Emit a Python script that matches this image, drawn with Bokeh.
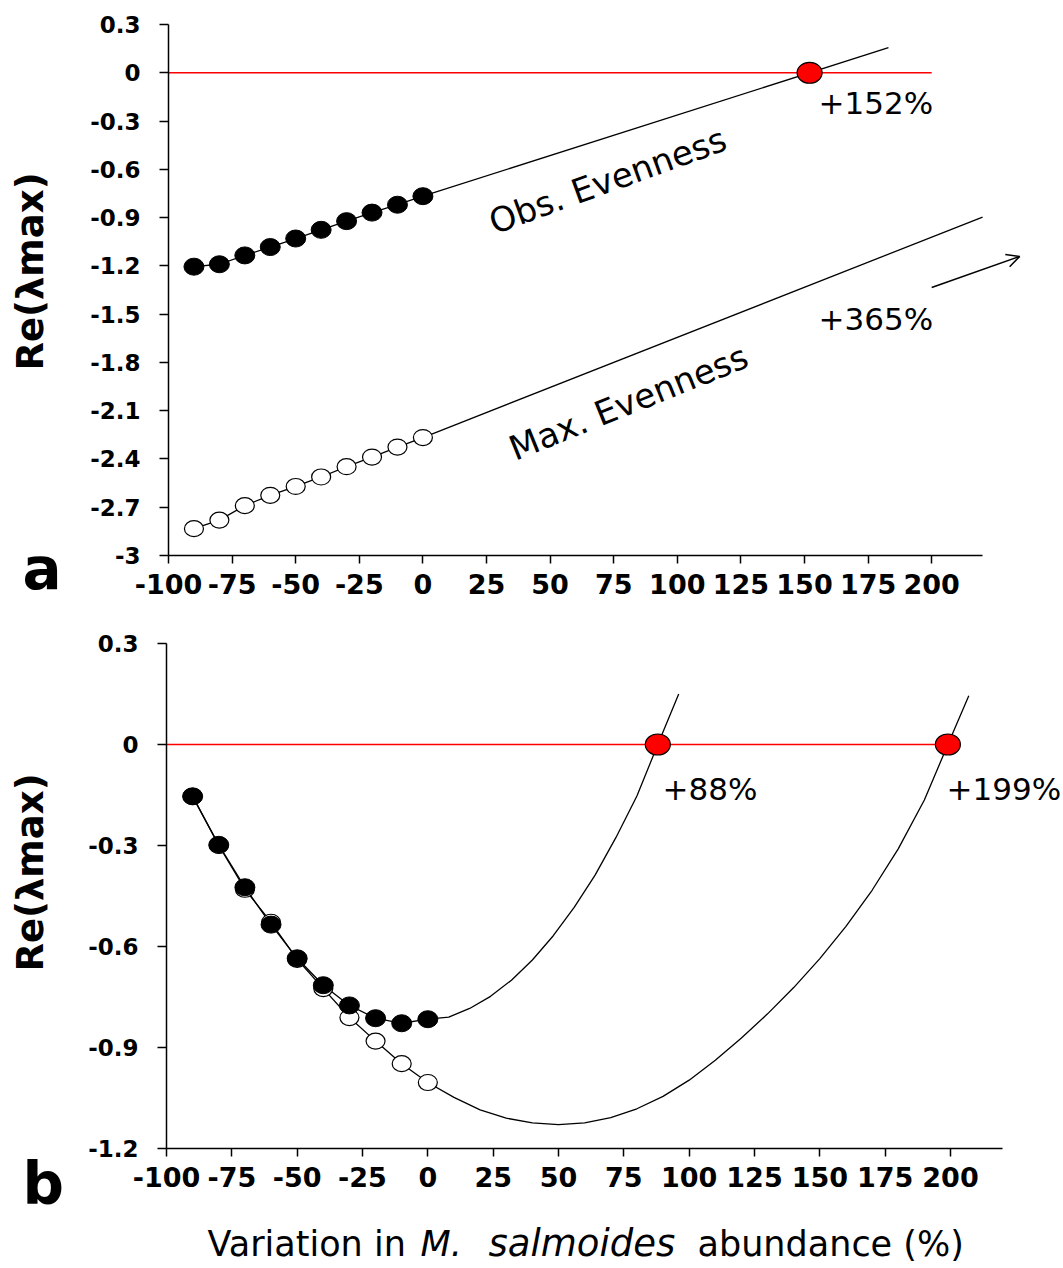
import math
from bokeh.plotting import figure
from bokeh.models import (ColumnDataSource, FixedTicker, CustomJSTickFormatter,
                          Label, Arrow, OpenHead, Range1d, LinearAxis)
from bokeh.layouts import column
from bokeh.embed import file_html
from bokeh.resources import INLINE
from bokeh.core.properties import value

# ---------------- data ----------------
pct = [-90, -80, -70, -60, -50, -40, -30, -20, -10, 0]

# panel a
a_obs = [-1.205, -1.19, -1.135, -1.083, -1.03, -0.976, -0.922, -0.869, -0.82, -0.767]
a_max = [-2.833, -2.78, -2.69, -2.626, -2.571, -2.512, -2.448, -2.388, -2.326, -2.267]
a_obs_fit_x = [0, 183]
a_obs_fit_y = [-0.767, 0.156]
a_max_fit_x = [0, 220]
a_max_fit_y = [-2.267, -0.897]
a_cross_x = [152]
a_cross_y = [0.0]
a_arrow_x = [200, 234.6]
a_arrow_y = [-1.334, -1.141]

# panel b
b_obs = [-0.154, -0.298, -0.424, -0.535, -0.635, -0.715, -0.775, -0.813, -0.828, -0.816]
b_max = [-0.154, -0.300, -0.430, -0.528, -0.638, -0.725, -0.811, -0.881, -0.948, -1.004]
b_obs_fit_x = [0, 8, 16, 24, 32, 40, 48, 56, 64, 72, 80, 88, 96]
b_obs_fit_y = [-0.816, -0.810, -0.784, -0.748, -0.700, -0.640, -0.568, -0.484, -0.388,
               -0.276, -0.153, 0.0, 0.150]
b_max_fit_x = [0, 10, 20, 30, 40, 50, 60, 70, 80, 90, 100, 110, 120, 130, 140, 150,
               160, 170, 180, 190, 199, 207]
b_max_fit_y = [-1.004, -1.048, -1.085, -1.110, -1.124, -1.129, -1.124, -1.108, -1.082,
               -1.045, -0.997, -0.938, -0.872, -0.800, -0.722, -0.636, -0.540, -0.433,
               -0.310, -0.165, 0.0, 0.145]
b_cross_x = [88, 199]
b_cross_y = [0.0, 0.0]

zero_x = [-100, 200]
zero_y = [0, 0]

x_ticks = [-100, -75, -50, -25, 0, 25, 50, 75, 100, 125, 150, 175, 200]
a_y_ticks = [0.3, 0, -0.3, -0.6, -0.9, -1.2, -1.5, -1.8, -2.1, -2.4, -2.7, -3]
b_y_ticks = [0.3, 0, -0.3, -0.6, -0.9, -1.2]

a_labels = ["+152%", "+365%"]
b_labels = ["+88%", "+199%"]

FONT = "DejaVu Sans"
Y_FMT = """
var s = tick.toFixed(1);
if (s.slice(-2) == '.0') { s = s.slice(0, -2); }
if (s == '-0') { s = '0'; }
return s;
"""


def make_fig(w, h, x_lo, x_hi, y_lo, y_hi, y_axis_lo, y_axis_hi, y_ticks):
    p = figure(frame_width=w, frame_height=h,
               x_range=Range1d(x_lo, x_hi), y_range=Range1d(y_lo, y_hi),
               output_backend="svg", toolbar_location=None,
               x_axis_location=None, y_axis_location=None, min_border=0)
    p.outline_line_color = None
    p.xgrid.visible = False
    p.ygrid.visible = False
    p.background_fill_color = "white"
    p.border_fill_color = "white"
    xa = LinearAxis(fixed_location=y_axis_lo, bounds=(-100, 220),
                    ticker=FixedTicker(ticks=x_ticks),
                    formatter=CustomJSTickFormatter(code="return tick.toFixed(0);"))
    ya = LinearAxis(fixed_location=-100, bounds=(y_axis_lo, y_axis_hi),
                    ticker=FixedTicker(ticks=y_ticks),
                    formatter=CustomJSTickFormatter(code=Y_FMT))
    for ax in (xa, ya):
        ax.axis_line_color = "black"
        ax.axis_line_width = 1.5
        ax.major_tick_line_color = "black"
        ax.major_tick_line_width = 1.5
        ax.major_tick_in = 0
        ax.minor_tick_line_color = None
        ax.major_label_text_font = FONT
        ax.major_label_text_font_style = "bold"
        ax.major_label_text_color = "black"
    xa.major_tick_out = 8
    xa.major_label_standoff = 10
    xa.major_label_text_font_size = "27px"
    ya.major_tick_out = 9
    ya.major_label_standoff = 19
    ya.major_label_text_font_size = "23px"
    p.add_layout(xa, "below")
    p.add_layout(ya, "left")
    return p


def add_label(p, x, y, text, size, style="normal", angle=0.0, align="left",
              baseline="alphabetic"):
    p.add_layout(Label(x=x, y=y, x_units="screen", y_units="screen", text=text,
                       angle=angle, text_font=FONT, text_font_style=style,
                       text_font_size=size, text_align=align, text_baseline=baseline,
                       text_color="black"))


# ---------------- panel a (canvas 1063 x 610) ----------------
pa = make_fig(1063, 610, -166.04, 251.81, -3.3418, 0.4492, -3, 0.3, a_y_ticks)
pa.line(zero_x, zero_y, line_color="red", line_width=1.5)
pa.line(pct, a_obs, line_color="black", line_width=1.3)
pa.line(a_obs_fit_x, a_obs_fit_y, line_color="black", line_width=1.3)
pa.line(pct, a_max, line_color="black", line_width=1.3)
pa.line(a_max_fit_x, a_max_fit_y, line_color="black", line_width=1.3)
src_a = ColumnDataSource(dict(x=pct, obs=a_obs, mx=a_max))
pa.ellipse(x="x", y="mx", width=19, height=16, width_units="screen", height_units="screen",
           fill_color="white", line_color="black", line_width=1.2, source=src_a)
pa.ellipse(x="x", y="obs", width=20, height=17, width_units="screen", height_units="screen",
           fill_color="black", line_color="black", source=src_a)
pa.ellipse(x=a_cross_x, y=a_cross_y, width=25, height=21, width_units="screen",
           height_units="screen", fill_color="red", line_color="black", line_width=1.2)
pa.add_layout(Arrow(end=OpenHead(size=13, line_width=1.5, line_color="black"),
                    x_start=a_arrow_x[0], y_start=a_arrow_y[0],
                    x_end=a_arrow_x[1], y_end=a_arrow_y[1],
                    line_width=1.5, line_color="black"))
pa.text(x=[155.5, 155.5], y=[-0.19, -1.53], text=a_labels,
        text_font=value(FONT), text_font_size="31px", text_color="black",
        text_align="left", text_baseline="alphabetic")
pa.text(x=[72.6], y=[-0.669], text=["Obs. Evenness"], angle=math.radians(20),
        text_font=value(FONT), text_font_size="34px", text_color="black",
        text_align="center", text_baseline="middle")
pa.text(x=[80.8], y=[-2.048], text=["Max. Evenness"], angle=math.radians(22),
        text_font=value(FONT), text_font_size="34px", text_color="black",
        text_align="center", text_baseline="middle")
add_label(pa, 30, 339, "Re(\u03bbmax)", "37px", "bold", angle=math.pi / 2,
          align="center", baseline="middle")
add_label(pa, 22, 42, "a", "58px", "bold")

# ---------------- panel b (canvas 1063 x 658) ----------------
pb = make_fig(1063, 658, -163.52, 243.24, -1.5564, 0.398, -1.2, 0.3, b_y_ticks)
pb.line(zero_x, zero_y, line_color="red", line_width=1.5)
pb.line(pct, b_max, line_color="black", line_width=1.3)
pb.line(b_max_fit_x, b_max_fit_y, line_color="black", line_width=1.3)
pb.line(pct, b_obs, line_color="black", line_width=1.3)
pb.line(b_obs_fit_x, b_obs_fit_y, line_color="black", line_width=1.3)
src_b = ColumnDataSource(dict(x=pct, obs=b_obs, mx=b_max))
pb.ellipse(x="x", y="mx", width=19, height=16, width_units="screen", height_units="screen",
           fill_color="white", line_color="black", line_width=1.2, source=src_b)
pb.ellipse(x="x", y="obs", width=20, height=17, width_units="screen", height_units="screen",
           fill_color="black", line_color="black", source=src_b)
pb.ellipse(x=b_cross_x, y=b_cross_y, width=25, height=21, width_units="screen",
           height_units="screen", fill_color="red", line_color="black", line_width=1.2)
pb.text(x=[89.8, 198.5], y=[-0.131, -0.131], text=b_labels,
        text_font=value(FONT), text_font_size="31px", text_color="black",
        text_align="left", text_baseline="alphabetic")
add_label(pb, 30, 396, "Re(\u03bbmax)", "37px", "bold", angle=math.pi / 2,
          align="center", baseline="middle")
add_label(pb, 22, 85, "b", "58px", "bold")
title_parts = [("Variation in", 207, "normal", "35px"), ("M.", 420, "italic", "35px"),
               ("salmoides", 488, "italic", "37px"), ("abundance (%)", 697, "normal", "35px")]
for txt, xs, style, size in title_parts:
    add_label(pb, xs, 25, txt, size, style)

layout = column(pa, pb, spacing=0)
open("out.html", "w").write(file_html(layout, INLINE))
